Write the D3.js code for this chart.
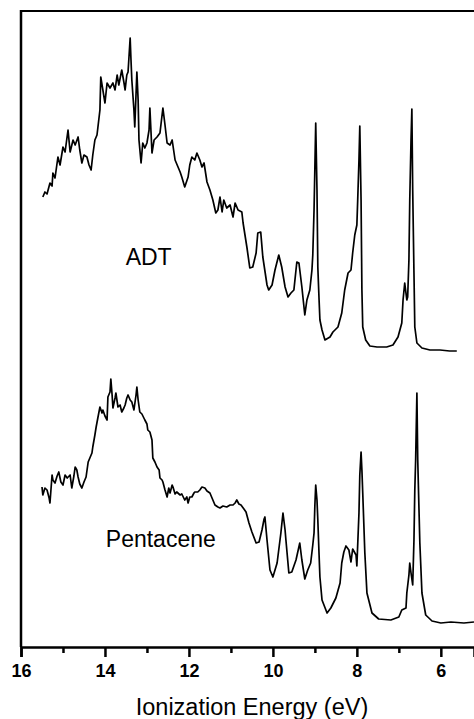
<!DOCTYPE html>
<html>
<head>
<meta charset="utf-8">
<script src="https://cdn.jsdelivr.net/npm/d3@7/dist/d3.min.js"></script>
<style>
body { margin: 0; background: #fff; }
text { font-family: Arial, "Liberation Sans", sans-serif; fill: #000; }
</style>
</head>
<body>
<script>
// photoelectron spectra (signal in arbitrary units)
var adtEnergy = [15.48,15.43,15.38,15.31,15.26,15.24,15.19,15.12,15.07,15.00,14.95,14.88,14.83,14.76,14.71,14.64,14.60,14.55,14.50,14.43,
14.38,14.33,14.29,14.24,14.19,14.17,14.12,14.10,14.05,14.00,13.95,13.88,13.81,13.76,13.71,13.67,13.60,13.55,13.52,13.48,
13.45,13.40,13.38,13.36,13.31,13.29,13.24,13.21,13.19,13.14,13.10,13.05,13.00,12.95,12.93,12.88,12.83,12.76,12.69,12.62,
12.57,12.52,12.45,12.40,12.33,12.26,12.21,12.17,12.10,12.02,11.98,11.93,11.86,11.81,11.74,11.69,11.64,11.57,11.50,11.43,
11.36,11.31,11.26,11.21,11.17,11.10,11.02,10.95,10.90,10.83,10.74,10.71,10.62,10.55,10.48,10.40,10.36,10.29,10.24,10.14,
10.10,10.02,9.95,9.86,9.79,9.71,9.64,9.57,9.50,9.43,9.38,9.31,9.24,9.19,9.12,9.07,9.05,9.02,9.00,8.98,
8.95,8.93,8.90,8.88,8.83,8.76,8.64,8.57,8.45,8.36,8.29,8.21,8.14,8.10,8.05,8.00,7.98,7.95,7.93,7.90,
7.88,7.86,7.79,7.69,7.52,7.29,7.14,7.02,6.93,6.90,6.86,6.81,6.79,6.76,6.74,6.71,6.69,6.67,6.64,6.62,
6.57,6.45,6.26,6.02,5.79,5.62];
var adtSignal = [450,455,453,464,461,474,469,490,482,500,495,517,495,507,502,510,497,484,492,490,
482,477,492,507,512,519,537,570,557,544,564,559,564,557,572,562,577,565,557,572,
575,609,587,567,537,520,575,547,507,484,504,499,504,517,539,494,507,510,514,539,
522,504,502,507,487,480,475,470,460,470,482,490,487,494,487,480,484,465,457,447,
434,437,450,435,447,439,442,430,444,437,435,424,400,379,380,394,414,415,390,362,
357,362,377,392,380,360,350,354,357,385,384,360,332,347,357,377,392,437,480,524,
457,380,347,327,317,307,310,315,320,334,357,374,377,394,412,422,447,487,521,447,
357,320,307,301,300,300,302,310,324,347,364,347,350,387,447,507,538,457,374,320,
304,299,297,297,296,296];

var pentEnergy = [15.50,15.48,15.43,15.38,15.33,15.31,15.26,15.24,15.19,15.14,15.10,15.05,15.00,14.95,14.90,14.83,14.79,14.74,14.71,14.67,
14.64,14.60,14.55,14.50,14.45,14.40,14.36,14.31,14.29,14.24,14.21,14.17,14.12,14.07,14.05,14.00,13.95,13.93,13.88,13.86,
13.83,13.81,13.76,13.74,13.69,13.64,13.60,13.55,13.52,13.48,13.45,13.40,13.36,13.31,13.26,13.24,13.21,13.17,13.12,13.05,
13.00,12.98,12.93,12.88,12.86,12.81,12.76,12.71,12.69,12.64,12.62,12.57,12.52,12.48,12.45,12.40,12.38,12.33,12.29,12.21,
12.17,12.10,12.05,12.02,11.98,11.93,11.88,11.86,11.79,11.74,11.69,11.62,11.57,11.50,11.43,11.38,11.31,11.26,11.19,11.10,
11.02,10.95,10.90,10.86,10.81,10.76,10.69,10.64,10.57,10.50,10.40,10.33,10.26,10.21,10.19,10.14,10.07,10.00,9.90,9.81,
9.76,9.71,9.69,9.62,9.55,9.45,9.36,9.31,9.24,9.17,9.10,9.05,9.02,9.00,8.98,8.95,8.93,8.90,8.88,8.83,
8.71,8.62,8.50,8.40,8.36,8.31,8.26,8.19,8.14,8.10,8.02,8.00,7.95,7.93,7.90,7.88,7.86,7.81,7.76,7.64,
7.48,7.19,7.00,6.93,6.83,6.81,6.76,6.74,6.71,6.67,6.64,6.62,6.60,6.57,6.55,6.52,6.50,6.45,6.36,6.21,
6.00,5.76,5.45,5.21];
var pentSignal = [160,152,159,157,149,144,172,167,164,171,175,165,162,172,169,172,159,171,180,177,
170,163,159,165,170,185,189,194,200,212,220,229,240,234,237,231,227,250,255,268,
252,239,249,254,240,242,235,239,242,249,252,247,245,237,252,260,247,235,233,227,
223,217,215,207,189,185,180,177,169,167,165,157,150,159,154,162,160,153,155,152,
153,147,150,144,150,150,154,155,155,157,160,159,156,154,147,142,140,139,141,140,
142,142,144,147,143,142,138,135,124,115,104,105,117,128,130,107,77,70,84,114,
134,117,107,74,75,87,104,87,68,77,84,102,114,142,162,147,127,92,70,47,
34,39,49,64,84,95,101,97,85,98,92,81,134,172,195,177,154,94,54,34,
28,27,30,37,39,54,72,84,74,62,107,157,187,254,187,137,104,54,32,26,
24,25,24,25];

var majorTicks = [16, 14, 12, 10, 8, 6];
var minorTicks = [15, 13, 11, 9, 7];
var seriesNames = ["ADT", "Pentacene"];

var width = 474, height = 719;
var plotLeft = 21, plotRight = 474, plotTop = 11, plotBottom = 647;

var svg = d3.select("body").append("svg")
  .attr("width", width)
  .attr("height", height);

var x = d3.scaleLinear().domain([16, 5.21]).range([plotLeft, plotRight]);
var y = d3.scaleLinear().domain([0, 636]).range([plotBottom, plotTop]);

var line = d3.line()
  .x(function(d) { return x(d[0]); })
  .y(function(d) { return y(d[1]); });

var spectra = [d3.zip(adtEnergy, adtSignal), d3.zip(pentEnergy, pentSignal)];

svg.selectAll("path.spectrum")
  .data(spectra)
  .enter()
  .append("path")
  .attr("class", "spectrum")
  .attr("d", line)
  .attr("fill", "none")
  .attr("stroke", "#000")
  .attr("stroke-width", 1.7)
  .attr("stroke-linejoin", "round");

// frame: left and top
svg.append("line")
  .attr("x1", plotLeft).attr("y1", plotTop - 1)
  .attr("x2", plotLeft).attr("y2", plotBottom)
  .attr("stroke", "#000").attr("stroke-width", 2.5);
svg.append("line")
  .attr("x1", plotLeft).attr("y1", plotTop)
  .attr("x2", plotRight).attr("y2", plotTop)
  .attr("stroke", "#000").attr("stroke-width", 2);

// bottom axis, major then minor ticks
var axisMajor = svg.append("g")
  .attr("transform", "translate(0," + plotBottom + ")")
  .call(d3.axisBottom(x).tickValues(majorTicks).tickSize(10).tickPadding(7).tickFormat(d3.format("d")));
axisMajor.select(".domain").attr("stroke-width", 2.5);
axisMajor.selectAll(".tick line").attr("stroke-width", 2.5);
axisMajor.selectAll(".tick text")
  .style("font-size", "18px")
  .style("font-weight", "bold")
  .style("font-family", "Arial, 'Liberation Sans', sans-serif");

var axisMinor = svg.append("g")
  .attr("transform", "translate(0," + plotBottom + ")")
  .call(d3.axisBottom(x).tickValues(minorTicks).tickSize(6).tickFormat(""));
axisMinor.select(".domain").remove();
axisMinor.selectAll(".tick line").attr("stroke-width", 2.5);

svg.append("text")
  .attr("x", 252)
  .attr("y", 715)
  .attr("text-anchor", "middle")
  .style("font-size", "23.5px")
  .text("Ionization Energy (eV)");

// series labels
svg.append("text")
  .attr("x", x(12.96)).attr("y", y(382))
  .attr("text-anchor", "middle")
  .style("font-size", "23px")
  .text(seriesNames[0]);
svg.append("text")
  .attr("x", x(12.67)).attr("y", y(100))
  .attr("text-anchor", "middle")
  .style("font-size", "23px")
  .text(seriesNames[1]);
</script>
</body>
</html>
